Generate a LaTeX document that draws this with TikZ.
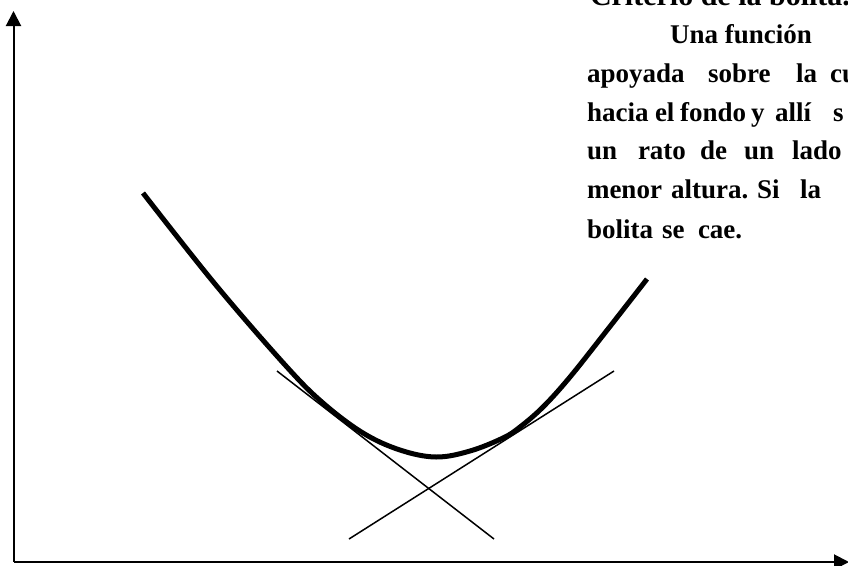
\documentclass[tikz,border=0pt]{standalone}
\usepackage{fontspec}
\setmainfont{Liberation Serif}
\usetikzlibrary{arrows.meta}
\tikzset{
  axis/.style={line width=2pt, -{Triangle[length=15pt,width=15pt]}},
  curve/.style={line width=5pt, line join=round},
  tangent/.style={line width=1.5pt},
  word/.style={anchor=base west, inner sep=0pt, outer sep=0pt, font=\fontsize{27}{31}\selectfont\bfseries},
  titleword/.style={word, font=\fontsize{30}{34}\selectfont\bfseries}
}
\newcommand\gw[3]{\node[word] (#1) at (#2) {#3};}
\begin{document}
\begin{tikzpicture}[x=1pt,y=-1pt]
\useasboundingbox (0,0) rectangle (848,565);
\clip (0,0) rectangle (848,565);
% axes
\coordinate (O) at (13.5,562);
\coordinate (Ytop) at (13.5,11);
\coordinate (Xend) at (849,562);
\draw[axis] (O) -- (Ytop);
\draw[axis] (O) -- (Xend);
% curve
\draw[curve] plot[smooth, tension=0.6] coordinates {
 (143,193) (215,284) (286,366) (323,403) (363,433) (400,450) (436,457)
 (470,451) (503,438) (520,427) (543,407) (570,377) (608,329) (647,279)};
% tangents
\coordinate (t1a) at (277,371);
\coordinate (t1b) at (494,539);
\coordinate (t2a) at (349,539);
\coordinate (t2b) at (614,371);
\draw[tangent] (t1a) -- (t1b);
\draw[tangent] (t2a) -- (t2b);
% text
\node[titleword] (l1) at (590,5) {Criterio de la bolita.};
\gw{l2}{670,43}{Una función}
\gw{a1}{587,82}{apoyada}
\gw{a2}{708,82}{sobre}
\gw{a3}{796,82}{la}
\gw{a4}{830,82}{cu}
\gw{b1}{587,121}{hacia}
\gw{b2}{655,121}{el}
\gw{b3}{680,121}{fondo}
\gw{b4}{751,121}{y}
\gw{b5}{775,121}{allí}
\gw{b6}{833,121}{s}
\gw{c1}{587,159}{un}
\gw{c2}{638,159}{rato}
\gw{c3}{700,159}{de}
\gw{c4}{744,159}{un}
\gw{c5}{792,159}{lado}
\gw{d1}{587,198}{menor}
\gw{d2}{671,198}{altura.}
\gw{d3}{757,198}{Si}
\gw{d4}{800,198}{la}
\gw{e1}{587,238}{bolita}
\gw{e2}{662,238}{se}
\gw{e3}{698,238}{cae.}
\end{tikzpicture}
\end{document}
